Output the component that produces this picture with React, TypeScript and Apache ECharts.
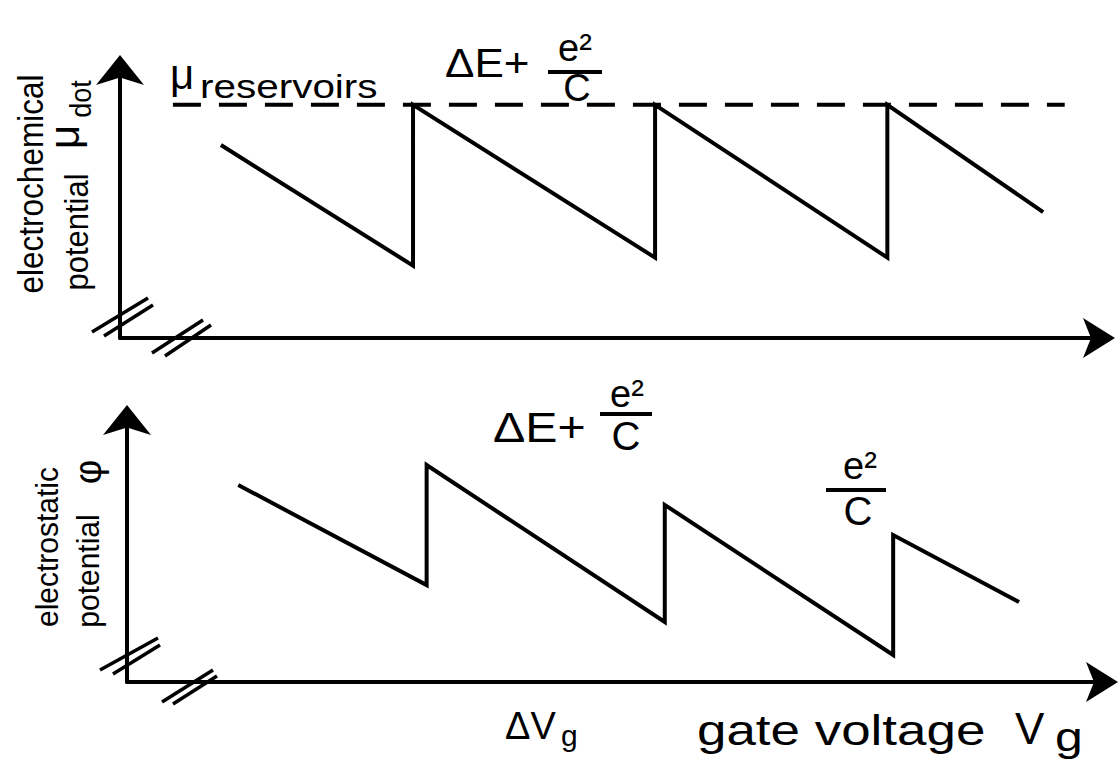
import React, { useEffect, useRef } from "react";
import * as echarts from "echarts";

// Upper panel: electrochemical potential of the dot versus gate voltage
const muDotVg = [10.3, 29.9, 29.9, 54.6, 54.6, 78.3, 78.3, 94.2];
const muDotLevel = [72, 27, 87, 30, 87, 30, 87, 47];
// Electrochemical potential of the reservoirs (dashed level)
const muReservoirs = 87;
const reservoirsVg = [5.4, 96.4];

// Lower panel: electrostatic potential of the dot versus gate voltage
const phiVg = [11.4, 30.7, 30.7, 55.1, 55.1, 78.5, 78.5, 91.4];
const phiLevel = [75.2, 37.0, 82.8, 22.9, 67.6, 10.3, 56.1, 30.5];

const FONT = '"Liberation Sans", Arial, Helvetica, sans-serif';
const INK = "#000";

const zip = (xs: number[], ys: number[]) => xs.map((x, i) => [x, ys[i]]);

type TextOpts = {
  align?: string;
  rotate?: boolean;
  sx?: number;
  sy?: number;
};

function label(text: string, x: number, y: number, size: number, o: TextOpts = {}) {
  return {
    type: "text",
    x,
    y,
    rotation: o.rotate ? Math.PI / 2 : 0,
    scaleX: o.sx ?? 1,
    scaleY: o.sy ?? 1,
    z: 10,
    style: {
      text,
      fill: INK,
      fontFamily: FONT,
      fontSize: size,
      align: o.align ?? "center",
      verticalAlign: "middle",
    },
  };
}

function stroke(x1: number, y1: number, x2: number, y2: number, w = 3.5) {
  return {
    type: "line",
    z: 10,
    shape: { x1, y1, x2, y2 },
    style: { stroke: INK, lineWidth: w, lineCap: "butt" },
  };
}

const hidden = {
  axisTick: { show: false },
  axisLabel: { show: false },
  splitLine: { show: false },
};

function axisFor(gridIndex: number, size: number[]) {
  return {
    type: "value",
    gridIndex,
    min: 0,
    max: 100,
    axisLine: {
      show: true,
      onZero: false,
      symbol: ["none", "arrow"],
      symbolSize: size,
      symbolOffset: [0, 15],
      lineStyle: { color: INK, width: 4 },
    },
    ...hidden,
  };
}

export default function App() {
  const ref = useRef<HTMLDivElement>(null);

  useEffect(() => {
    if (!ref.current) return;
    const chart = echarts.init(ref.current, undefined, { renderer: "svg" });

    const sawStyle = { color: INK, width: 4, join: "miter" };

    const graphic = [
      // upper panel: axis labels (rotated)
      label("electrochemical", 31, 184, 31.5, { rotate: true, sy: 1.12 }),
      label("potential", 76, 232, 31, { rotate: true, sy: 1.1 }),
      label("μ", 64, 137, 42, { rotate: true }),
      label("dot", 81, 99, 27, { rotate: true, sy: 1.1 }),
      // reservoir level label
      label("μ", 170, 74, 42, { align: "left" }),
      label("reservoirs", 200, 86, 34, { align: "left", sx: 1.19 }),
      // charging energy over the first peak
      label("ΔE+", 445, 63, 40, { align: "left", sx: 1.1 }),
      label("e²", 575, 48, 38),
      stroke(548, 72, 602, 72, 4),
      label("C", 577, 88, 38),
      // axis break marks, upper panel
      stroke(92, 332, 148, 298),
      stroke(104, 336, 153, 305),
      stroke(152, 353, 203, 320),
      stroke(165, 356, 211, 325),

      // lower panel: axis labels (rotated)
      label("electrostatic", 47, 547, 30, { rotate: true, sy: 1.05 }),
      label("potential", 88, 571, 30, { rotate: true, sy: 1.05 }),
      label("φ", 88, 472, 38, { rotate: true }),
      // energy labels
      label("ΔE+", 493, 428, 42, { align: "left", sx: 1.15 }),
      label("e²", 627, 394, 38),
      stroke(600, 414, 652, 414, 4),
      label("C", 626, 436, 40),
      label("e²", 860, 466, 38),
      stroke(826, 490, 886, 490, 4),
      label("C", 858, 511, 40),
      // gate voltage axis texts
      label("ΔV", 505, 726, 38, { align: "left" }),
      label("g", 561, 735, 30, { align: "left" }),
      label("gate voltage", 697, 730, 42, { align: "left", sx: 1.26 }),
      label("V", 1015, 728, 44, { align: "left" }),
      label("g", 1055, 737, 40, { align: "left", sx: 1.25 }),
      // axis break marks, lower panel
      stroke(100, 670, 158, 638),
      stroke(113, 674, 160, 645),
      stroke(162, 702, 213, 670),
      stroke(173, 704, 217, 676),
    ];

    chart.setOption({
      animation: false,
      backgroundColor: "#fff",
      grid: [
        { left: 120, top: 70, width: 980, height: 268 },
        { left: 127, top: 420, width: 976, height: 262 },
      ],
      xAxis: [axisFor(0, [30, 32]), axisFor(1, [30, 32])],
      yAxis: [axisFor(0, [36, 30]), axisFor(1, [36, 30])],
      series: [
        {
          name: "μ reservoirs",
          type: "line",
          xAxisIndex: 0,
          yAxisIndex: 0,
          data: reservoirsVg.map((v) => [v, muReservoirs]),
          symbol: "none",
          lineStyle: { color: INK, width: 4, type: [28, 18] },
          z: 2,
        },
        {
          name: "μ dot",
          type: "line",
          xAxisIndex: 0,
          yAxisIndex: 0,
          data: zip(muDotVg, muDotLevel),
          symbol: "none",
          lineStyle: sawStyle,
          z: 3,
        },
        {
          name: "φ",
          type: "line",
          xAxisIndex: 1,
          yAxisIndex: 1,
          data: zip(phiVg, phiLevel),
          symbol: "none",
          lineStyle: sawStyle,
          z: 3,
        },
      ],
      graphic,
    });

    return () => chart.dispose();
  }, []);

  return (
    <div
      ref={ref}
      style={{ position: "absolute", left: 0, top: 0, width: 1120, height: 767, background: "#fff" }}
    />
  );
}
